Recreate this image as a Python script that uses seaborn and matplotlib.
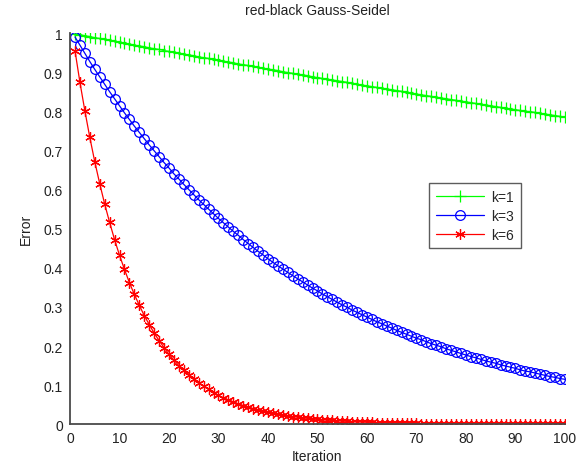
import numpy as np
import pandas as pd
import matplotlib
matplotlib.use("Agg")
import matplotlib.pyplot as plt
import seaborn as sns

iterations = list(range(1, 101))

err_k1 = [
    0.998, 0.996, 0.993, 0.991, 0.988, 0.986, 0.984, 0.981, 0.979, 0.976,
    0.974, 0.972, 0.969, 0.967, 0.965, 0.962, 0.960, 0.958, 0.955, 0.953,
    0.951, 0.949, 0.946, 0.944, 0.942, 0.939, 0.937, 0.935, 0.933, 0.930,
    0.928, 0.926, 0.924, 0.921, 0.919, 0.917, 0.915, 0.912, 0.910, 0.908,
    0.906, 0.904, 0.901, 0.899, 0.897, 0.895, 0.893, 0.891, 0.888, 0.886,
    0.884, 0.882, 0.880, 0.878, 0.876, 0.874, 0.871, 0.869, 0.867, 0.865,
    0.863, 0.861, 0.859, 0.857, 0.855, 0.853, 0.851, 0.848, 0.846, 0.844,
    0.842, 0.840, 0.838, 0.836, 0.834, 0.832, 0.830, 0.828, 0.826, 0.824,
    0.822, 0.820, 0.818, 0.816, 0.814, 0.812, 0.810, 0.808, 0.806, 0.804,
    0.802, 0.800, 0.799, 0.797, 0.795, 0.793, 0.791, 0.789, 0.787, 0.785,
]

err_k3 = [
    0.990, 0.969, 0.948, 0.927, 0.907, 0.888, 0.869, 0.850, 0.832, 0.814,
    0.796, 0.779, 0.762, 0.746, 0.730, 0.714, 0.699, 0.684, 0.669, 0.655,
    0.640, 0.627, 0.613, 0.600, 0.587, 0.574, 0.562, 0.550, 0.538, 0.526,
    0.515, 0.504, 0.493, 0.483, 0.472, 0.462, 0.452, 0.442, 0.433, 0.423,
    0.414, 0.405, 0.397, 0.388, 0.380, 0.372, 0.364, 0.356, 0.348, 0.341,
    0.333, 0.326, 0.319, 0.312, 0.305, 0.299, 0.292, 0.286, 0.280, 0.274,
    0.268, 0.262, 0.257, 0.251, 0.246, 0.240, 0.235, 0.230, 0.225, 0.220,
    0.216, 0.211, 0.206, 0.202, 0.198, 0.193, 0.189, 0.185, 0.181, 0.177,
    0.173, 0.170, 0.166, 0.162, 0.159, 0.156, 0.152, 0.149, 0.146, 0.143,
    0.139, 0.136, 0.134, 0.131, 0.128, 0.125, 0.122, 0.120, 0.117, 0.115,
]

err_k6 = [
    0.955, 0.874, 0.801, 0.733, 0.671, 0.615, 0.563, 0.516, 0.472, 0.432,
    0.396, 0.362, 0.332, 0.304, 0.278, 0.255, 0.233, 0.214, 0.196, 0.179,
    0.164, 0.150, 0.138, 0.126, 0.115, 0.106, 0.097, 0.089, 0.081, 0.074,
    0.068, 0.062, 0.057, 0.052, 0.048, 0.044, 0.040, 0.037, 0.034, 0.031,
    0.0282, 0.0258, 0.0236, 0.0216, 0.0198, 0.0182, 0.0166, 0.0152, 0.0139, 0.0128,
    0.0117, 0.0107, 0.0098, 0.0090, 0.0082, 0.0075, 0.0069, 0.0063, 0.0058, 0.0053,
    0.0048, 0.0044, 0.0041, 0.0037, 0.0034, 0.0031, 0.0029, 0.0026, 0.0024, 0.0022,
    0.0020, 0.0018, 0.0017, 0.0015, 0.0014, 0.0013, 0.0012, 0.0011, 0.0010, 0.0009,
    0.0008, 0.0008, 0.0007, 0.0006, 0.0006, 0.0005, 0.0005, 0.0004, 0.0004, 0.0004,
    0.0003, 0.0003, 0.0003, 0.0003, 0.0002, 0.0002, 0.0002, 0.0002, 0.0002, 0.0002,
]

labels = ["k=1", "k=3", "k=6"]
x_ticks = list(range(0, 101, 10))
y_ticks = [0, 0.1, 0.2, 0.3, 0.4, 0.5, 0.6, 0.7, 0.8, 0.9, 1]
y_tick_labels = ["0", "0.1", "0.2", "0.3", "0.4", "0.5", "0.6", "0.7", "0.8", "0.9", "1"]

sns.set_theme(style="white")
plt.rcParams["font.family"] = ["Liberation Sans", "DejaVu Sans"]

fig = plt.figure(figsize=(5.86, 4.64), dpi=100)
ax = fig.add_axes([0.1195, 0.0834, 0.8445, 0.8433])

axis_col = "#4a4a4a"
series = [
    (err_k1, labels[0], "#00ff00", dict(marker="+", markersize=8.5, markeredgewidth=0.9)),
    (err_k3, labels[1], "#0000ff", dict(marker="o", markersize=7, markerfacecolor="none",
                                        markeredgewidth=0.9)),
    (err_k6, labels[2], "#ff0000", dict(marker=(6, 2, 0), markersize=7.5, markeredgewidth=0.9)),
]
for vals, lab, col, mk in series:
    df = pd.DataFrame({"Iteration": iterations, "Error": vals})
    sns.lineplot(data=df, x="Iteration", y="Error", ax=ax, color=col, label=lab,
                 linewidth=0.9, markeredgecolor=col, **mk)

ax.set_xlim(0, 100)
ax.set_ylim(0, 1)
ax.set_xticks(x_ticks)
ax.set_yticks(y_ticks)
ax.set_yticklabels(y_tick_labels)
ax.tick_params(direction="in", length=5, width=1, colors=axis_col, labelsize=10,
               labelcolor="#222222")
ax.tick_params(axis="x", pad=5)
ax.tick_params(axis="y", pad=5)
for s in ["top", "right"]:
    ax.spines[s].set_visible(False)
for s in ["left", "bottom"]:
    ax.spines[s].set_color(axis_col)
    ax.spines[s].set_linewidth(1.3)

ax.set_xlabel("Iteration", fontsize=10, color="#222222", labelpad=3)
ax.set_ylabel("Error", fontsize=10, color="#222222", labelpad=8)
ax.set_title("red-black Gauss-Seidel", fontsize=10, color="#222222", pad=14)

leg = ax.legend(loc="upper right", bbox_to_anchor=(0.911, 0.617), fontsize=10,
                frameon=True, fancybox=False, borderpad=0.5, handlelength=3.5,
                labelspacing=0.35, handletextpad=0.5, borderaxespad=0)
leg.get_frame().set_edgecolor("#333333")
leg.get_frame().set_linewidth(1.0)

fig.savefig("out.png", dpi=100)
